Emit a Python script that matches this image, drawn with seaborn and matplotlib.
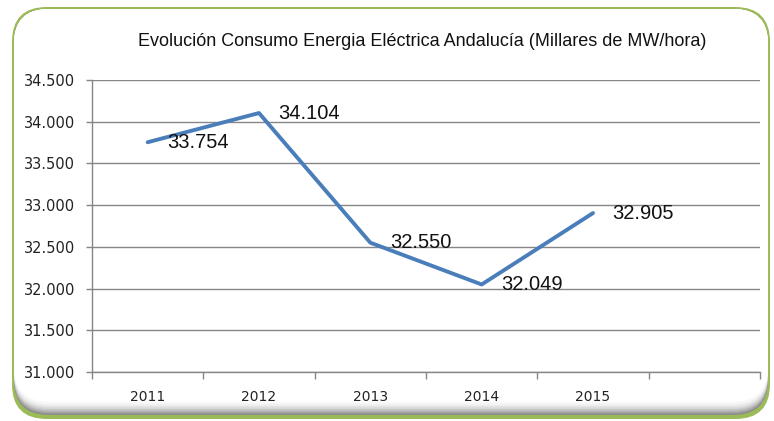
import numpy as np
import pandas as pd
import matplotlib.pyplot as plt
import seaborn as sns
from matplotlib.patches import FancyBboxPatch
from matplotlib.ticker import FuncFormatter

# Data
years = ['2011', '2012', '2013', '2014', '2015']
consumo = [33754, 34104, 32550, 32049, 32905]
labels = ['33.754', '34.104', '32.550', '32.049', '32.905']

df = pd.DataFrame({'year': years, 'consumo': consumo})

sns.set_style('white')
plt.rcParams['font.family'] = ['DejaVu Sans']

fig = plt.figure(figsize=(7.74, 4.21), dpi=100)


def frame_patch(x0, y0, x1, y1, color, z):
    # pixel coords, y measured from top
    p = FancyBboxPatch((x0 / 774, (421 - y1) / 421), (x1 - x0) / 774, (y1 - y0) / 421,
                       boxstyle='round,pad=0,rounding_size=0.045',
                       transform=fig.transFigure, facecolor=color,
                       edgecolor='none', zorder=z, mutation_aspect=774 / 421)
    fig.patches.append(p)


# Rounded green frame, grey shadow fading into white at the bottom
frame_patch(12, 7, 770, 419, '#9BBB59', 0)
shades = ['#8c8c8c', '#a0a0a0', '#b4b4b4', '#c6c6c6', '#d6d6d6', '#e3e3e3',
          '#ededed', '#f5f5f5', '#fafafa', '#ffffff']
for i, c in enumerate(shades):
    frame_patch(14, 9, 768, 415 - 1.5 * i, c, 0.1 + i * 0.01)

ax = fig.add_axes([92 / 774, 49 / 421, 668 / 774, 292 / 421])
ax.set_facecolor('none')
ax.set_zorder(2)

sns.lineplot(data=df, x='year', y='consumo', sort=False, color='#4A7EBB',
             linewidth=2.8, ax=ax)

for i, (v, t) in enumerate(zip(consumo, labels)):
    ax.annotate(t, (i, v), xytext=(14, 0), textcoords='offset points',
                ha='left', va='center', fontsize=14.5, color='#111111',
                family=['Liberation Sans', 'DejaVu Sans'])

ax.set_xlim(-0.5, 5.5)
ax.set_ylim(31000, 34500)
ax.set_yticks(np.arange(31000, 34501, 500))
ax.yaxis.set_major_formatter(FuncFormatter(lambda v, p: f'{int(v):,}'.replace(',', '.')))
ax.set_xticks(range(len(years)))
ax.set_xticklabels(years)
ax.set_xticks(np.arange(-0.5, 5.6, 1), minor=True)

ax.grid(axis='y', color='#868686', linewidth=1)
ax.set_axisbelow(True)
for s in ['top', 'right']:
    ax.spines[s].set_visible(False)
for s in ['left', 'bottom']:
    ax.spines[s].set_color('#868686')
    ax.spines[s].set_linewidth(1)

ax.tick_params(axis='y', length=4, width=1, color='#868686', pad=8,
               labelsize=10.5, labelcolor='#222222', left=True)
ax.tick_params(axis='x', which='major', length=0, pad=13, labelsize=10,
               labelcolor='#222222')
ax.tick_params(axis='x', which='minor', length=5, width=1, color='#868686',
               bottom=True)
ax.set_xlabel('')
ax.set_ylabel('')

fig.text(422 / 774, 1 - 42 / 421,
         'Evolución Consumo Energia Eléctrica Andalucía (Millares de MW/hora)',
         ha='center', va='center', fontsize=13, color='#111111',
         family=['Liberation Sans Narrow', 'Liberation Sans', 'DejaVu Sans'])

fig.savefig('out.png', dpi=100)
